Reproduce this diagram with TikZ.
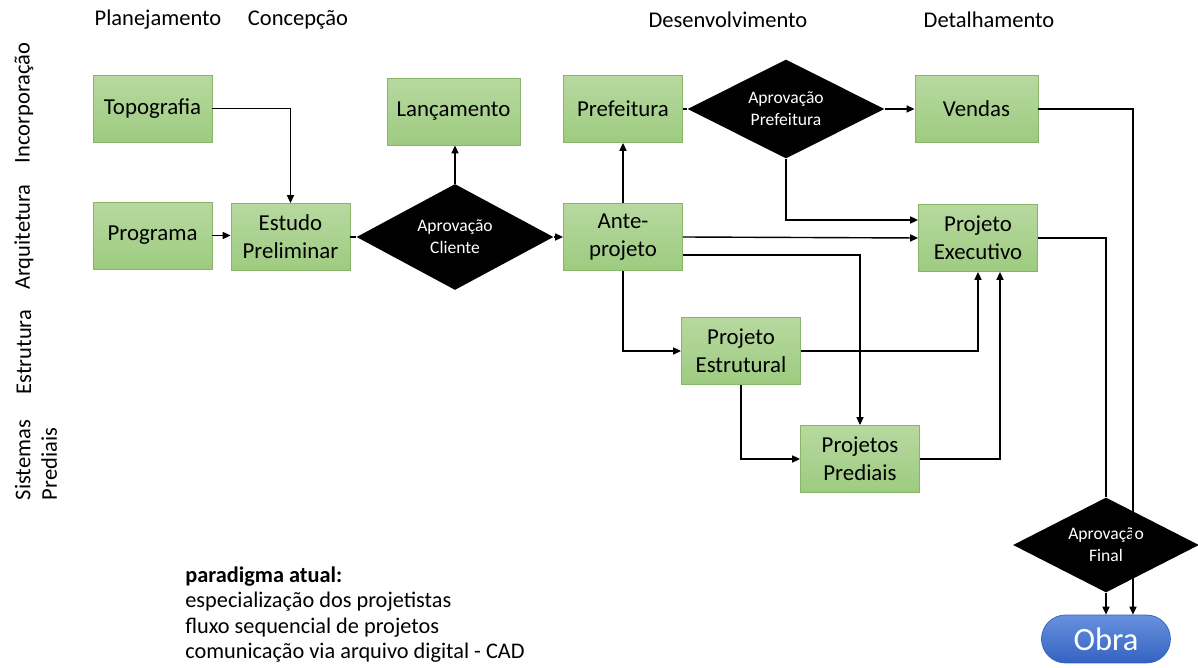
\documentclass[tikz,border=0pt]{standalone}
\usepackage{fontspec}
\setmainfont{Carlito}
\usepackage{tikz}
\usetikzlibrary{positioning, shapes.geometric, arrows.meta}
\definecolor{boxTopCol}{RGB}{183,217,160}
\definecolor{boxBotCol}{RGB}{158,203,128}
\definecolor{boxLineCol}{RGB}{135,182,104}
\definecolor{obraTopCol}{RGB}{104,146,222}
\definecolor{obraBotCol}{RGB}{52,98,192}
\tikzset{myBox/.style={draw=boxLineCol, line width=0.5pt, top color=boxTopCol, bottom color=boxBotCol, minimum width=2.38cm, minimum height=1.34cm, inner sep=0pt, align=center, font=\fontsize{13}{16}\selectfont}}
\tikzset{myDiamond/.style={diamond, aspect=2, fill=black, text=white, minimum width=3.94cm, minimum height=2.12cm, inner sep=0pt, align=center, font=\fontsize{10}{12.5}\selectfont}}
\tikzset{myObra/.style={rounded corners=0.48cm, top color=obraTopCol, bottom color=obraBotCol, draw=obraBotCol, text=white, minimum width=2.58cm, minimum height=0.96cm, inner sep=0pt, font=\fontsize{18.5}{20}\selectfont}}
\tikzset{myLabel/.style={font=\fontsize{12.8}{15}\selectfont, inner sep=0pt}}
\tikzset{myArrow/.style={line width=0.8pt, color=black, -{Triangle[length=4.5pt, width=4pt]}}}
\tikzset{myLine/.style={line width=0.8pt, color=black}}

\begin{document}
\begin{tikzpicture}[x=0.02cm, y=-0.02cm]
	\useasboundingbox (0,0) rectangle (1198,668);

	% phases and disciplines
	\node[myLabel] (planej) at (158,20) {Planejamento};
	\node[myLabel] (concep) at (298,20) {Concepção};
	\node[myLabel] (desenv) at (728,20) {Desenvolvimento};
	\node[myLabel] (detal) at (989,20) {Detalhamento};
	\node[myLabel, rotate=90] (incorp) at (24,103) {Incorporação};
	\node[myLabel, rotate=90] (arquit) at (24,237) {Arquitetura};
	\node[myLabel, rotate=90] (estrutura) at (24,352) {Estrutura};
	\node[myLabel, rotate=90, align=left] (sistemas) at (36,460) {Sistemas\\Prediais};

	% boxes
	\node[myBox] (topo) at (152.5,108.5) {Topografia};
	\node[myBox] (prog) at (152.5,235.5) {Programa};
	\node[myBox] (estudo) at (290.5,237) {Estudo\\Preliminar};
	\node[myDiamond] (aprCli) at (455,237) {Aprovação\\Cliente};
	\node[myBox, minimum width=2.66cm] (lanc) at (453.5,111.5) {Lançamento};
	\node[myBox] (pref) at (623,109) {Prefeitura};
	\node[myBox] (ante) at (623,237) {Ante-\\projeto};
	\node[myDiamond, minimum height=1.98cm] (aprPref) at (786,109) {Aprovação\\Prefeitura};
	\node[myBox, minimum width=2.46cm] (vendas) at (976.5,109) {Vendas};
	\node[myBox] (exec) at (978,238) {Projeto\\Executivo};
	\node[myBox] (estrut) at (741,351) {Projeto\\Estrutural};
	\node[myBox] (pred) at (860,459) {Projetos\\Prediais};
	\node[myDiamond, minimum width=3.72cm, minimum height=1.9cm] (aprFin) at (1106,545) {Aprovação\\Final};
	\node[myObra] (obra) at (1106,639) {Obra};

	% flow
	\draw[myArrow] (topo.east) -| (estudo.north);
	\draw[myArrow] (prog.east) -- (prog.east -| estudo.west);
	\draw[myLine] (estudo) -- (aprCli);
	\draw[myArrow] (aprCli.north) -- (aprCli.north |- lanc.south);
	\draw[myArrow] (aprCli) -- (ante);
	\draw[myArrow] (ante) -- (pref);
	\draw[myLine] (pref) -- (aprPref);
	\draw[myArrow] (aprPref) -- (vendas);
	\draw[myArrow] (aprPref.south) |- ([yshift=0.36cm]exec.west);
	\draw[myArrow] (ante.east) -- (exec.west);
	\draw[myArrow] ([yshift=-0.36cm]ante.east) -| (pred.north);
	\draw[myArrow] (ante.south) |- (estrut.west);
	\draw[myArrow] (estrut.east) -| (exec.south);
	\draw[myArrow] (estrut.south) |- (pred.west);
	\draw[myArrow] (pred.east) -| ([xshift=0.44cm]exec.south);
	\draw[myLine] (exec.east) -| (aprFin.north);
	\draw[myArrow] (aprFin.south) -- (obra.north);
	\draw[myArrow] (vendas.east) -| ([xshift=0.54cm]obra.north);

	\node[myLabel, anchor=north west, align=left, font=\fontsize{12.7}{14.6}\selectfont] (paradigma) at (185,566) {\textbf{paradigma atual:}\\especialização dos projetistas\\fluxo sequencial de projetos\\comunicação via arquivo digital - CAD};
\end{tikzpicture}
\end{document}
